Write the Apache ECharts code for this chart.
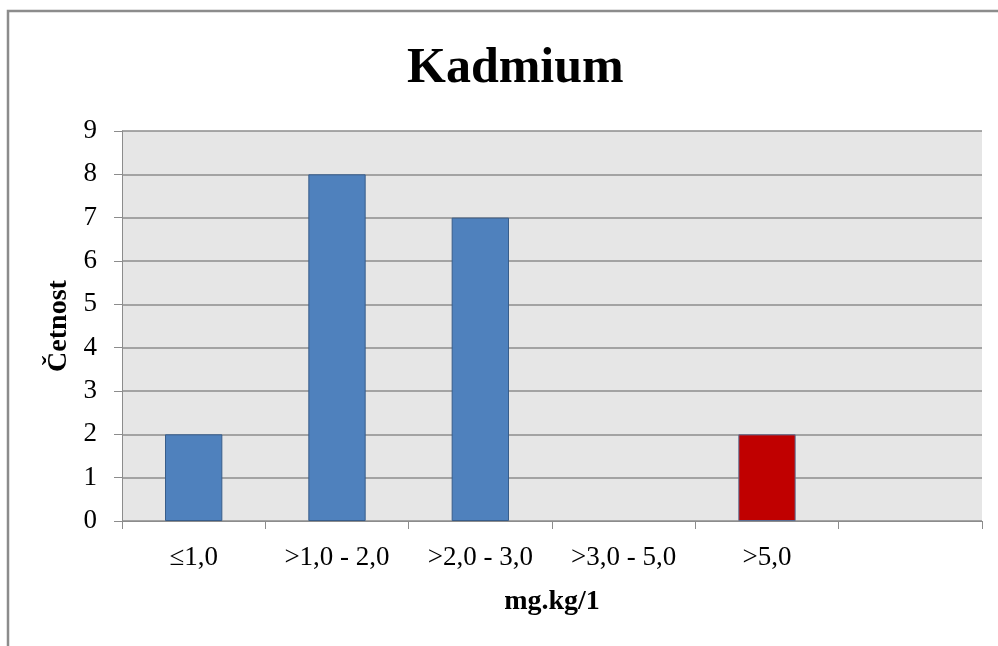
<!DOCTYPE html>
<html>
<head>
<meta charset="utf-8">
<script src="https://cdn.jsdelivr.net/npm/echarts@6/dist/echarts.min.js"></script>
<style>
  html, body { margin: 0; padding: 0; background: #ffffff; }
  #chart { width: 998px; height: 646px; }
</style>
</head>
<body>
<div id="chart"></div>
<script>
// Frequency of cadmium concentration classes
const categories = ['≤1,0', '>1,0 - 2,0', '>2,0 - 3,0', '>3,0 - 5,0', '>5,0', ''];
const counts = [2, 8, 7, 0, 2, null];
const yTicks = { min: 0, max: 9, interval: 1 };
// class above the limit is highlighted in red
const highlightIndex = 4;

const serif = '"Liberation Serif", "Times New Roman", serif';

const chart = echarts.init(document.getElementById('chart'), null, { renderer: 'canvas' });

const barData = counts.map((v, i) => {
  if (v === null) return '-';
  if (i === highlightIndex) {
    return { value: v, itemStyle: { color: '#c00000', borderColor: '#5a6f93' } };
  }
  if (v === 0) {
    // empty class: no outline on a zero-height bar
    return { value: v, itemStyle: { borderWidth: 0 } };
  }
  return v;
});

chart.setOption({
  animation: false,
  backgroundColor: '#ffffff',
  title: {
    text: 'Kadmium',
    left: 402,
    top: 39,
    textStyle: { fontFamily: serif, fontWeight: 'bold', fontSize: 50, color: '#000000' }
  },
  graphic: [
    {
      type: 'rect',
      shape: { x: 8, y: 11, width: 1100, height: 800 },
      style: { fill: 'none', stroke: '#8c8c8c', lineWidth: 2.5 },
      silent: true,
      z: 100
    }
  ],
  grid: { left: 122, top: 131, right: 16, bottom: 125, show: true, backgroundColor: '#e6e6e6', borderWidth: 0 },
  xAxis: {
    type: 'category',
    data: categories,
    name: 'mg.kg/1',
    nameLocation: 'middle',
    nameGap: 67,
    nameTextStyle: { fontFamily: serif, fontWeight: 'bold', fontSize: 28, color: '#000000' },
    axisLine: { show: true, lineStyle: { color: '#8c8c8c', width: 1 } },
    axisTick: { show: true, length: 8, lineStyle: { color: '#8c8c8c' } },
    axisLabel: { fontFamily: serif, fontSize: 27, color: '#000000', margin: 23, interval: 0 },
    splitLine: { show: false }
  },
  yAxis: {
    type: 'value',
    min: yTicks.min,
    max: yTicks.max,
    interval: yTicks.interval,
    name: 'Četnost',
    nameLocation: 'middle',
    nameGap: 47,
    nameTextStyle: { fontFamily: serif, fontWeight: 'bold', fontSize: 28, color: '#000000' },
    axisLine: { show: true, lineStyle: { color: '#8c8c8c', width: 1 } },
    axisTick: { show: true, length: 8, lineStyle: { color: '#8c8c8c' } },
    axisLabel: { fontFamily: serif, fontSize: 27, color: '#000000', margin: 25 },
    splitLine: { show: true, lineStyle: { color: '#8c8c8c', width: 1.5 } }
  },
  series: [
    {
      type: 'bar',
      data: barData,
      barWidth: '40%',
      itemStyle: { color: '#4f81bd', borderColor: '#385d8a', borderWidth: 1 }
    }
  ]
});
</script>
</body>
</html>
